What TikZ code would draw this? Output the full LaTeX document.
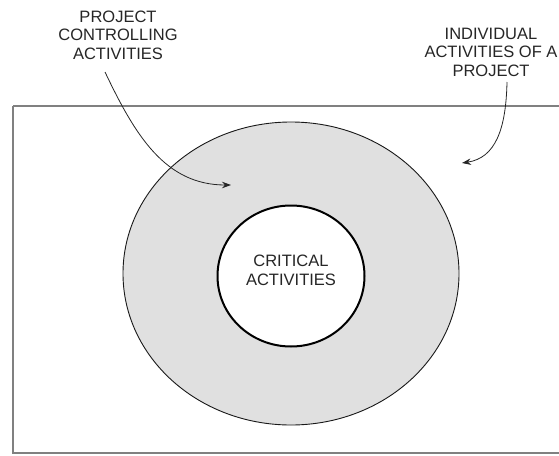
\documentclass[tikz,border=0pt]{standalone}
\usepackage{fontspec}
\setmainfont{Liberation Sans}
\usetikzlibrary{shapes.geometric,arrows.meta}
\begin{document}
\begin{tikzpicture}[x=1pt,y=-1pt,
  lbl/.style={align=center,font=\fontsize{16.5}{18.5}\selectfont,text=black!85,inner sep=0pt},
  ring/.style={ellipse,inner sep=0pt},
  pointer/.style={-{Stealth[length=9pt,width=6.5pt]},line width=0.8pt,black!85}]
\useasboundingbox (0,0) rectangle (559,455);
\draw[line width=2pt,black!50] (13,106) -- (13,453) -- (580,453) (13,106) -- (580,106);
\node[ring,draw=black!90,line width=0.9pt,fill=black!12,minimum width=336pt,minimum height=303pt] (outer) at (291,273.5) {};
\node[ring,draw=black,line width=2pt,fill=white,minimum width=147pt,minimum height=141pt] (inner) at (291,276) {};
\node[lbl,anchor=base] (crit) at (291,285) {CRITICAL\\ACTIVITIES};
\node[lbl,anchor=base] (l1) at (118,59) {PROJECT\\CONTROLLING\\ACTIVITIES};
\node[lbl,anchor=base] (l2) at (491,76) {INDIVIDUAL\\ACTIVITIES OF A\\PROJECT};
\coordinate (s1) at (105,72);
\coordinate (t1) at (231,185);
\coordinate (s2) at (507,82);
\coordinate (t2) at (462,163);
\draw[pointer] (s1) .. controls (135,135) and (165,185) .. (t1);
\draw[pointer] (s2) .. controls (506,130) and (495,158) .. (t2);
\end{tikzpicture}
\end{document}
